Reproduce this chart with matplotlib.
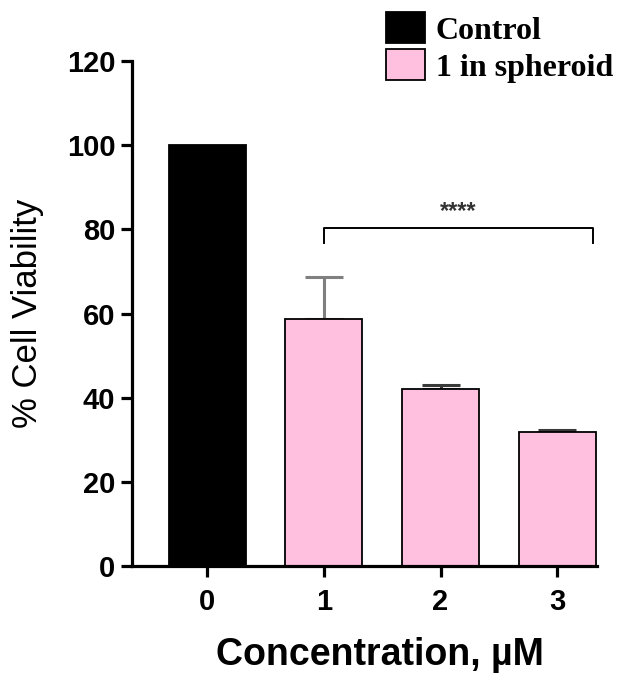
import matplotlib
matplotlib.use("Agg")
import matplotlib.pyplot as plt
from matplotlib.patches import Patch

categories = ["0", "1", "2", "3"]
values = [100.0, 58.7, 42.1, 31.8]
errors = [0.0, 10.0, 1.0, 0.5]
err_colors = ["#000000", "#808080", "#3a3a3a", "#3a3a3a"]
bar_colors = ["#000000", "#FFBFDF", "#FFBFDF", "#FFBFDF"]
legend_labels = ["Control", "1 in spheroid"]
sig_label = "****"
sig_from, sig_to, sig_y = 1, 3.31, 80.2

fig = plt.figure(figsize=(6.29, 6.75), dpi=100)
ax = fig.add_axes([132/629, 1-566/675, (597-132)/629, (566-61)/675])

xs = list(range(len(categories)))
ax.bar(xs, values, width=0.66, color=bar_colors, edgecolor="black", linewidth=1.3, zorder=2)
for x, v, e, c in zip(xs, values, errors, err_colors):
    if e > 0:
        ax.errorbar([x], [v], yerr=[[0], [e]], fmt="none", ecolor=c,
                    elinewidth=2.2, capsize=14, capthick=2.2, zorder=1)

ax.set_xlim(-0.643, 3.34)
ax.set_ylim(0, 120)
ax.set_yticks([0, 20, 40, 60, 80, 100, 120])
ax.set_xticks(xs)
ax.set_xticklabels(categories)

for s in ["top", "right"]:
    ax.spines[s].set_visible(False)
for s in ["left", "bottom"]:
    ax.spines[s].set_linewidth(2.3)
ax.tick_params(width=2.3, length=8, labelsize=21, pad=4)
for lab in ax.get_xticklabels() + ax.get_yticklabels():
    lab.set_fontweight("bold")
    lab.set_family("Liberation Sans")
ax.tick_params(axis="x", pad=8)

ax.set_ylabel("% Cell Viability", fontsize=25, family="Liberation Sans")
ax.yaxis.set_label_coords((28 - 132) / 465, 0.5)
ax.set_xlabel("Concentration, µM", fontsize=27, fontweight="bold", family="Liberation Sans")
ax.xaxis.set_label_coords((380 - 132) / 465, -(655 - 566) / 505)
ax.xaxis.label.set_va("center")
ax.yaxis.label.set_va("center")

# significance bracket
ax.plot([sig_from, sig_from, sig_to, sig_to], [sig_y - 3.5, sig_y, sig_y, sig_y - 3.5],
        color="black", linewidth=1.4, clip_on=False)
ax.text((sig_from + sig_to) / 2, sig_y + 1.2, sig_label, ha="center", va="bottom",
        fontsize=17, fontweight="bold", color="#333333", family="Liberation Sans")

handles = [Patch(facecolor=bar_colors[0], edgecolor="black", linewidth=1.3),
           Patch(facecolor=bar_colors[1], edgecolor="black", linewidth=1.3)]
leg = fig.legend(handles, legend_labels, loc="upper left", bbox_to_anchor=(380/629, 1 - 6/675),
                 frameon=False, prop={"family": "Liberation Serif", "weight": "bold", "size": 23},
                 handlelength=1.2, handleheight=1.1, handletextpad=0.35, labelspacing=0.12,
                 borderaxespad=0, borderpad=0.2)

fig.savefig("out.png", dpi=100)
